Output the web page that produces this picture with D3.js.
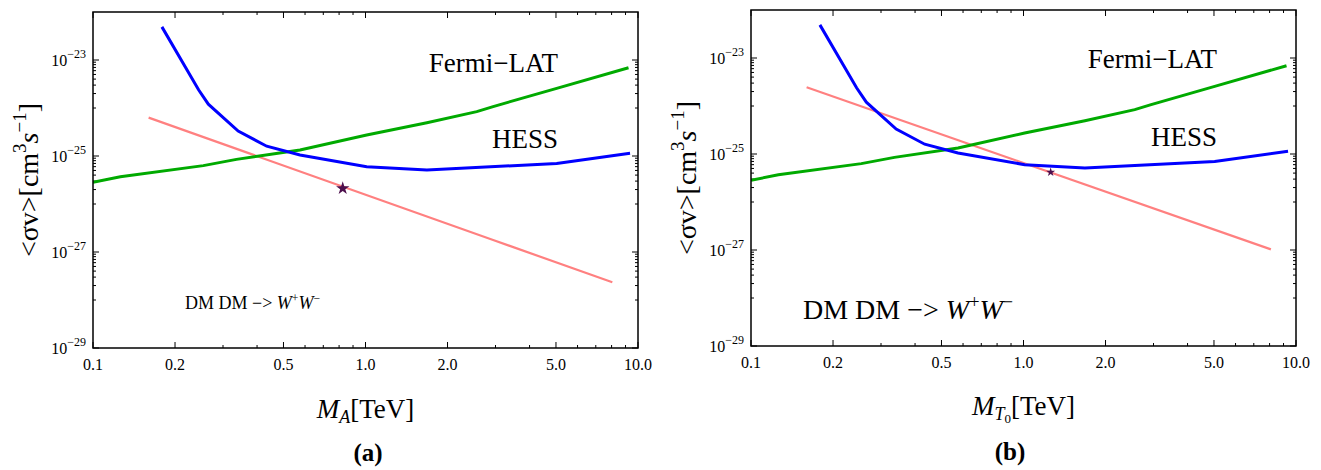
<!DOCTYPE html>
<html><head><meta charset="utf-8">
<script src="https://cdn.jsdelivr.net/npm/d3@7"></script>
<style>body{margin:0;background:#fff}svg{display:block}text{font-family:"Liberation Serif","Times New Roman",serif;fill:#000}</style>
</head><body><svg id="c" width="1321" height="470"></svg>
<script>
// ---- data ----
const massHESS  = [0.179, 0.244, 0.265, 0.341, 0.434, 0.575, 1.01, 1.68, 5.03, 9.35];
const sigmaHESS = [4.9e-23, 2.4e-24, 1.2e-24, 3.3e-25, 1.6e-25, 1.05e-25, 6.0e-26, 5.1e-26, 7.0e-26, 1.14e-25];
const massFermi  = [0.1, 0.126, 0.254, 0.336, 0.575, 1.01, 1.68, 2.56, 2.94, 5.03, 9.23];
const sigmaFermi = [2.83e-26, 3.7e-26, 6.3e-26, 8.5e-26, 1.33e-25, 2.74e-25, 4.94e-25, 8.4e-25, 1.07e-24, 2.57e-24, 6.9e-24];
const massModelA  = [0.16, 2.94, 8.05];
const sigmaModelA = [6.3e-25, 1.78e-27, 2.34e-28];
const massModelB  = [0.16, 8.09];
const sigmaModelB = [2.45e-24, 1.03e-27];
const starA = [0.825, 2.12e-26];
const starB = [1.258, 4.16e-26];
const xTickValues = [0.1, 0.2, 0.5, 1, 2, 5, 10];
const xTickLabels = ["0.1", "0.2", "0.5", "1.0", "2.0", "5.0", "10.0"];
const xMinorValues = [0.3, 0.4, 0.6, 0.7, 0.8, 0.9, 3, 4, 6, 7, 8, 9];
const yTickExponents = [-29, -27, -25, -23];
const yMinorDecades = [-28, -26, -24];

const svg = d3.select("#c");

function drawPanel(p) {
  const x = d3.scaleLog().domain([0.1, 10]).range([p.left, p.right]);
  const y = d3.scaleLog().domain([1e-29, 1e-22]).range([p.bottom, p.top]);
  const g = svg.append("g");
  const clipId = "clip" + p.id;
  g.append("clipPath").attr("id", clipId).append("rect")
    .attr("x", p.left).attr("y", p.top).attr("width", p.right - p.left).attr("height", p.bottom - p.top);

  // ticks (inward, all four sides)
  const tk = g.append("g").attr("stroke", "#000").attr("stroke-width", 1);
  const major = 6, minor = 3;
  xTickValues.forEach(v => {
    tk.append("line").attr("x1", x(v)).attr("x2", x(v)).attr("y1", p.bottom).attr("y2", p.bottom - major);
    tk.append("line").attr("x1", x(v)).attr("x2", x(v)).attr("y1", p.top).attr("y2", p.top + major);
  });
  xMinorValues.forEach(v => {
    tk.append("line").attr("x1", x(v)).attr("x2", x(v)).attr("y1", p.bottom).attr("y2", p.bottom - minor);
    tk.append("line").attr("x1", x(v)).attr("x2", x(v)).attr("y1", p.top).attr("y2", p.top + minor);
  });
  yTickExponents.forEach(e => {
    const v = Math.pow(10, e);
    tk.append("line").attr("x1", p.left).attr("x2", p.left + major).attr("y1", y(v)).attr("y2", y(v));
    tk.append("line").attr("x1", p.right).attr("x2", p.right - major).attr("y1", y(v)).attr("y2", y(v));
  });
  yMinorDecades.forEach(e => {
    for (let k = 1; k <= 9; k++) {
      const v = k * Math.pow(10, e);
      tk.append("line").attr("x1", p.left).attr("x2", p.left + minor).attr("y1", y(v)).attr("y2", y(v));
      tk.append("line").attr("x1", p.right).attr("x2", p.right - minor).attr("y1", y(v)).attr("y2", y(v));
    }
  });

  // tick labels
  xTickValues.forEach((v, i) => {
    g.append("text").attr("x", x(v)).attr("y", p.bottom + 22).attr("text-anchor", "middle")
      .attr("font-size", 16).text(xTickLabels[i]);
  });
  yTickExponents.forEach(e => {
    const t = g.append("text").attr("x", p.left - 7).attr("y", y(Math.pow(10, e)) + 6)
      .attr("text-anchor", "end").attr("font-size", 16);
    t.append("tspan").text("10");
    t.append("tspan").attr("font-size", 12).attr("dy", -8).text("\u2212" + Math.abs(e));
  });

  // curves
  const line = d3.line().x(d => x(d[0])).y(d => y(d[1]));
  const cg = g.append("g").attr("clip-path", `url(#${clipId})`).attr("fill", "none");
  cg.append("path").datum(p.modelM.map((m, i) => [m, p.modelS[i]]))
    .attr("d", line).attr("stroke", "#ff8080").attr("stroke-width", 2.2);
  cg.append("path").datum(massFermi.map((m, i) => [m, sigmaFermi[i]]))
    .attr("d", line).attr("stroke", "#00aa00").attr("stroke-width", 3);
  cg.append("path").datum(massHESS.map((m, i) => [m, sigmaHESS[i]]))
    .attr("d", line).attr("stroke", "#0000ff").attr("stroke-width", 3);
  g.append("path").attr("d", d3.symbol(d3.symbolStar, p.starSize)())
    .attr("transform", `translate(${x(p.star[0])},${y(p.star[1])})`).attr("fill", "#4d0f4d");

  // frame
  g.append("rect").attr("x", p.left).attr("y", p.top).attr("width", p.right - p.left).attr("height", p.bottom - p.top)
    .attr("fill", "none").attr("stroke", "#000").attr("stroke-width", 1.5);

  // annotations
  g.append("text").attr("x", p.fermiX).attr("y", p.fermiY).attr("text-anchor", "end").attr("font-size", 27).text("Fermi\u2212LAT");
  g.append("text").attr("x", p.fermiX).attr("y", p.hessY).attr("text-anchor", "end").attr("font-size", 27).text("HESS");
  const dm = g.append("text").attr("x", p.dmX).attr("y", p.dmY).attr("font-size", p.dmSize);
  dm.append("tspan").text("DM DM \u2212> ");
  dm.append("tspan").attr("font-style", "italic").text("W");
  dm.append("tspan").attr("font-size", p.dmSize * 0.65).attr("dy", -p.dmSize * 0.38).text("+");
  dm.append("tspan").attr("font-style", "italic").attr("dy", p.dmSize * 0.38).text("W");
  dm.append("tspan").attr("font-size", p.dmSize * 0.65).attr("dy", -p.dmSize * 0.38).text("\u2212");

  // y axis label
  const cy = (p.top + p.bottom) / 2;
  const yl = g.append("text").attr("transform", `translate(${p.left - 55},${cy}) rotate(-90)`)
    .attr("text-anchor", "middle").attr("font-size", 28);
  yl.append("tspan").text("<\u03c3v>[cm");
  yl.append("tspan").attr("font-size", 19).attr("dy", -12).text("3");
  yl.append("tspan").attr("font-style", "italic").attr("dy", 12).text("s");
  yl.append("tspan").attr("font-size", 19).attr("dy", -12).text("\u22121");
  yl.append("tspan").attr("dy", 12).text("]");

  // x axis label
  const cx = (p.left + p.right) / 2;
  const xl = g.append("text").attr("x", cx).attr("y", p.xLabelY).attr("text-anchor", "middle").attr("font-size", 27);
  xl.append("tspan").attr("font-style", "italic").text("M");
  if (p.id === "a") {
    xl.append("tspan").attr("font-style", "italic").attr("font-size", 18).attr("dy", 5).text("A");
    xl.append("tspan").attr("dy", -5).text("[TeV]");
  } else {
    xl.append("tspan").attr("font-style", "italic").attr("font-size", 18).attr("dy", 5).text("T");
    xl.append("tspan").attr("font-size", 13).attr("dy", 3).text("0");
    xl.append("tspan").attr("dy", -8).text("[TeV]");
  }
  g.append("text").attr("x", p.capX).attr("y", p.capY).attr("text-anchor", "middle")
    .attr("font-size", 25).attr("font-weight", "bold").text(p.caption);
}

drawPanel({id: "a", left: 93, right: 638, top: 12, bottom: 348,
  modelM: massModelA, modelS: sigmaModelA, star: starA, starSize: 55,
  fermiX: 558, fermiY: 72, hessY: 148, dmX: 185, dmY: 309, dmSize: 18,
  xLabelY: 418, capX: 368, capY: 461, caption: "(a)"});
drawPanel({id: "b", left: 751, right: 1296, top: 10, bottom: 346,
  modelM: massModelB, modelS: sigmaModelB, star: starB, starSize: 25,
  fermiX: 1217, fermiY: 68, hessY: 146, dmX: 803, dmY: 319, dmSize: 28,
  xLabelY: 415, capX: 1010, capY: 460, caption: "(b)"});
</script></body></html>
